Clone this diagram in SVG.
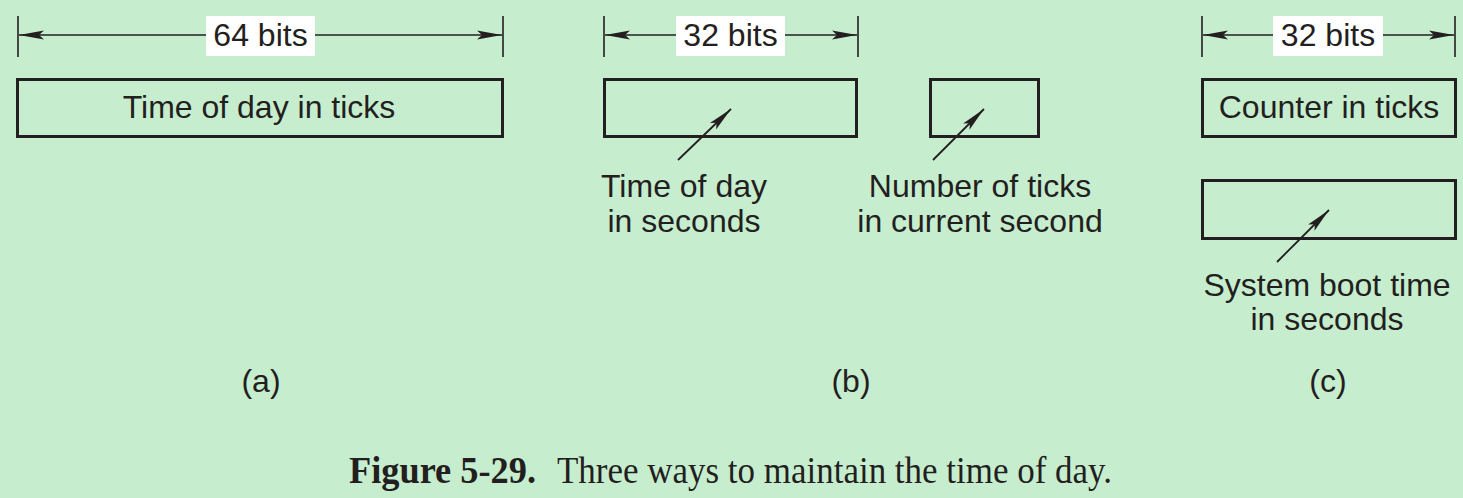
<svg xmlns="http://www.w3.org/2000/svg" width="1463" height="498" viewBox="0 0 1463 498">
<style>
.t{font-family:"Liberation Sans",Arial,sans-serif;font-size:32px;fill:#231f20;text-anchor:middle}
.box{fill:none;stroke:#231f20;stroke-width:3}
.tick{stroke:#231f20;stroke-width:1.6}
.dim{stroke:#231f20;stroke-width:1.4;fill:none;marker-end:url(#ah)}
.ptr{stroke:#231f20;stroke-width:1.8;fill:none;marker-end:url(#ah)}
.lbl{fill:#ffffff}
.cap{font-family:"Liberation Serif","Times New Roman",serif;font-size:38px;fill:#231f20}
</style>
<defs>
<marker id="ah" viewBox="-26 -6 27 12" refX="0" refY="0" markerWidth="27" markerHeight="12" markerUnits="userSpaceOnUse" orient="auto">
<path d="M0,0 L-25,-4.5 L-20,0 L-25,4.5 Z" fill="#231f20"/>
</marker>
</defs>
<rect width="1463" height="498" fill="#c7edcf"/>

<g id="connectors">
<line class="tick" x1="18" y1="16" x2="18" y2="57"/>
<line class="tick" x1="503" y1="16" x2="503" y2="57"/>
<path class="dim" d="M206,35 L19,35"/>
<path class="dim" d="M315,35 L502,35"/>
<line class="tick" x1="604" y1="16" x2="604" y2="57"/>
<line class="tick" x1="858" y1="16" x2="858" y2="57"/>
<path class="dim" d="M676,35 L605,35"/>
<path class="dim" d="M785,35 L857,35"/>
<line class="tick" x1="1202" y1="16" x2="1202" y2="57"/>
<line class="tick" x1="1455" y1="16" x2="1455" y2="57"/>
<path class="dim" d="M1273,35 L1203,35"/>
<path class="dim" d="M1383,35 L1454,35"/>
<path class="ptr" d="M678,160 L731,109"/>
<path class="ptr" d="M933,160 L984,109"/>
<path class="ptr" d="M1277,262 L1329,210"/>
</g>

<g id="dim-a">
<rect class="lbl" x="206" y="16" width="109" height="40"/>
<text class="t" x="260.5" y="46">64 bits</text>
</g>
<g id="dim-b">
<rect class="lbl" x="676" y="16" width="109" height="40"/>
<text class="t" x="730.5" y="46">32 bits</text>
</g>
<g id="dim-c">
<rect class="lbl" x="1273" y="16" width="110" height="40"/>
<text class="t" x="1328" y="46">32 bits</text>
</g>

<g id="node-a">
<rect class="box" x="17.5" y="79.5" width="485" height="57"/>
<text class="t" x="259" y="118">Time of day in ticks</text>
</g>
<g id="node-b1">
<rect class="box" x="604.5" y="79.5" width="252" height="57"/>
</g>
<g id="node-b2">
<rect class="box" x="930.5" y="79.5" width="108" height="57"/>
</g>
<g id="node-c1">
<rect class="box" x="1202.5" y="79.5" width="253" height="57"/>
<text class="t" x="1329" y="118">Counter in ticks</text>
</g>
<g id="node-c2">
<rect class="box" x="1202.5" y="180.5" width="253" height="58"/>
</g>

<g id="labels">
<text class="t" x="684" y="197">Time of day</text>
<text class="t" x="684" y="232">in seconds</text>
<text class="t" x="980" y="197">Number of ticks</text>
<text class="t" x="980" y="232">in current second</text>
<text class="t" x="1327" y="296">System boot time</text>
<text class="t" x="1327" y="330">in seconds</text>
<text class="t" x="261" y="392">(a)</text>
<text class="t" x="851" y="392">(b)</text>
<text class="t" x="1328" y="392">(c)</text>
</g>

<g id="caption">
<text class="cap" x="349" y="483" font-weight="bold" textLength="187" lengthAdjust="spacingAndGlyphs">Figure 5-29.</text>
<text class="cap" x="557" y="483" textLength="555" lengthAdjust="spacingAndGlyphs">Three ways to maintain the time of day.</text>
</g>
</svg>
